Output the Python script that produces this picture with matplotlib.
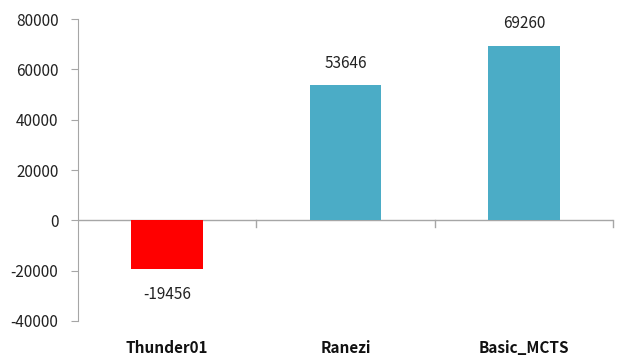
import matplotlib.pyplot as plt
import numpy as np

plt.rcParams['font.family'] = ['Noto Sans CJK KR', 'DejaVu Sans']

names = ['Thunder01', 'Ranezi', 'Basic_MCTS']
scores = [-19456, 53646, 69260]
colors = ['#ff0000', '#4bacc6', '#4bacc6']
yticks = [-40000, -20000, 0, 20000, 40000, 60000, 80000]

fig = plt.figure(figsize=(6.18, 3.55), dpi=100)
ax = fig.add_axes([0.126, 0.096, 0.866, 0.85])

x = np.arange(len(names))
ax.bar(x, scores, width=0.4, color=colors, zorder=3)

for xi, v in zip(x, scores):
    off = 16 if v >= 0 else -18
    ax.annotate(str(v), (xi, v), xytext=(0, off), textcoords='offset points',
                ha='center', va='center', fontsize=11, color='#222222')

ax.set_xlim(-0.5, 2.5)
ax.set_ylim(-40000, 80000)
ax.set_yticks(yticks)
ax.set_yticklabels([str(t) for t in yticks], fontsize=11, color='#222222')
ax.tick_params(axis='y', length=5, color='#a6a6a6', pad=9)

for s in ['top', 'right', 'bottom']:
    ax.spines[s].set_visible(False)
ax.spines['left'].set_color('#a6a6a6')
ax.axhline(0, color='#a6a6a6', lw=1, zorder=2)

# category boundary ticks hanging from the zero line
for b in [0.5, 1.5, 2.5]:
    ax.plot([b, b], [0, -2800], color='#a6a6a6', lw=1, clip_on=False)

ax.set_xticks(x)
ax.set_xticklabels(names, fontsize=11, fontweight='bold', color='#111111')
ax.tick_params(axis='x', length=0, pad=14)

fig.savefig('out.png', dpi=100)
